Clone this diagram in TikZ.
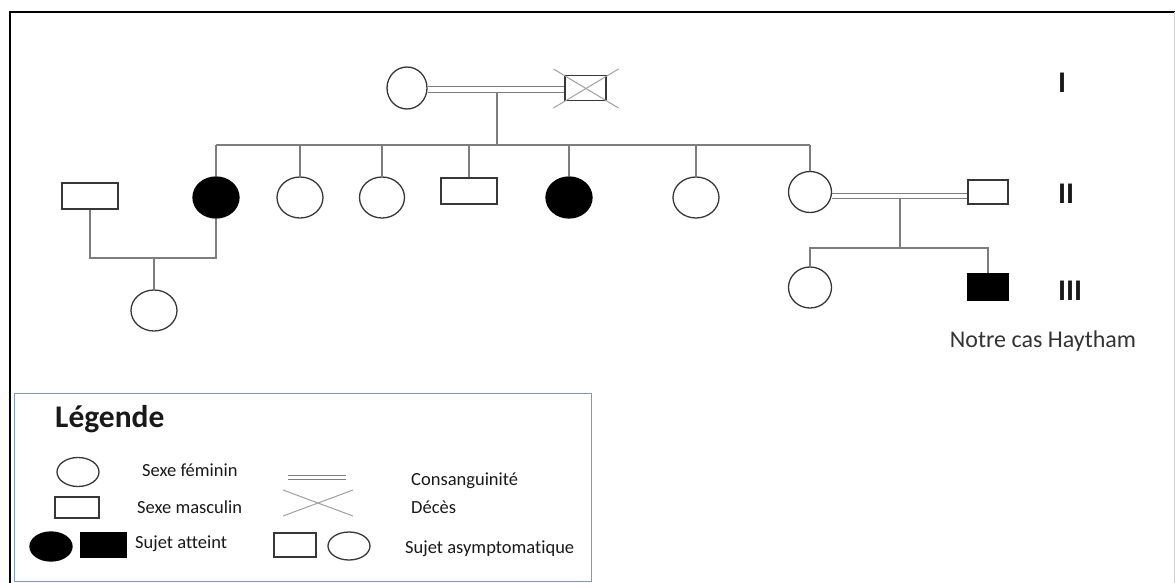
\documentclass[tikz,border=0pt]{standalone}
\usepackage{fontspec}
\setmainfont[Ligatures={CommonOff,ContextualOff}]{Carlito}
\usetikzlibrary{shapes.geometric}

\definecolor{linegray}{RGB}{125,125,125}
\definecolor{edgegray}{RGB}{55,55,55}
\definecolor{framegray}{RGB}{215,215,215}
\definecolor{legendblue}{RGB}{125,155,190}

\begin{document}
\begin{tikzpicture}[x=1pt, y=-1pt,
		female/.style={draw=edgegray, ellipse, line width=1.3pt, inner sep=0pt, minimum width=46pt, minimum height=41pt},
		male/.style={draw=edgegray, rectangle, line width=1.3pt, inner sep=0pt, minimum width=56pt, minimum height=26pt},
		affected/.style={fill=black, draw=black},
		link/.style={draw=linegray, line width=1.1pt},
		consang/.style={draw=linegray, line width=1pt, double, double distance=5pt},
		deceased/.style={draw=gray!75, line width=1pt},
		gen/.style={anchor=base west, inner sep=0pt, font=\fontsize{30}{30}\selectfont\bfseries, text=black!90},
		legtext/.style={anchor=base west, inner sep=0pt, font=\fontsize{18.5}{20}\selectfont, text=black!90}]
	\useasboundingbox (0,0) rectangle (1175,583);
	\draw[black, line width=2pt] (10,583) -- (10,12) -- (1175,12);
	\draw[framegray, line width=1pt] (1174,12) -- (1174,583);
	
	% generation I
	\node[female, minimum width=40pt, minimum height=42pt] (i1) at (407,88) {};
	\node[male, minimum width=41pt, minimum height=25pt] (i2) at (585.5,88) {};
	\draw[deceased] ([shift={(-32,-19)}]i2.center) -- ([shift={(33,20)}]i2.center);
	\draw[deceased] ([shift={(-32,20)}]i2.center) -- ([shift={(33,-19)}]i2.center);
	\draw[consang] ([yshift=-2pt]i1.east) to ([yshift=-2pt]i2.west);
	\coordinate (m1) at (497,93);
	\coordinate (s1) at (497,145);
	\draw[link] (m1) to (s1);
	
	% generation II
	\node[male] (ii0) at (90,196) {};
	\node[female, affected] (ii1) at (216,197.5) {};
	\node[female] (ii2) at (300,197.5) {};
	\node[female, minimum width=45pt] (ii3) at (382,197.5) {};
	\node[male] (ii4) at (469,191) {};
	\node[female, affected] (ii5) at (569,197.5) {};
	\node[female] (ii6) at (696,197.5) {};
	\node[female, minimum width=43pt] (ii7) at (810,192) {};
	\node[male, minimum width=40pt, minimum height=24pt] (ii8) at (988,192) {};
	
	\draw[link] (ii1.north |- s1) -- (ii7.north |- s1);
	\foreach \n in {ii1,ii2,ii3,ii4,ii5,ii6,ii7}
		\draw[link] (\n.north) -- (\n.north |- s1);
	
	\coordinate (u1) at (154,258);
	\draw[link] (ii0.south) |- (u1) -| (ii1.south);
	
	\draw[consang, double distance=4pt] ([yshift=-3.5pt]ii7.east) to ([yshift=-3.5pt]ii8.west);
	\coordinate (m2) at (900,198);
	\coordinate (s2) at (900,248);
	\draw[link] (m2) to (s2);
	
	% generation III
	\node[female] (iii1) at (154,310.5) {};
	\node[female, minimum width=43pt] (iii2) at (810,287.5) {};
	\node[male, affected, minimum width=40pt] (iii3) at (988,287) {};
	\draw[link] (u1) to (iii1.north);
	\draw[link] (iii2.north) |- (s2) -| (iii3.north);
	
	\node[anchor=base, inner sep=0pt, font=\fontsize{24}{24}\selectfont, text=black!80] (cas) at (1043,347) {Notre cas Haytham};
	
	\node[gen] (g1) at (1058,93) {I};
	\node[gen] (g2) at (1058,203) {II};
	\node[gen] (g3) at (1058,300) {III};
	
	% legend
	\node[draw=legendblue, line width=1.2pt, anchor=north west, minimum width=577pt, minimum height=188pt, inner sep=0pt] (legend) at (14,393) {};
	\node[anchor=base west, inner sep=0pt, font=\fontsize{31.5}{32}\selectfont\bfseries, text=black!90] (legtitle) at (55,427) {Légende};
	
	\node[female, minimum width=42pt, minimum height=29pt] (kf) at (78,472) {};
	\node[male, minimum width=44pt, minimum height=21pt] (km) at (77,507.5) {};
	\node[female, affected, minimum width=42pt, minimum height=29pt] (kfa) at (51,546.5) {};
	\node[male, affected, minimum width=45pt, minimum height=24pt] (kma) at (103.5,545) {};
	\node[legtext] (tf) at (142,476) {Sexe féminin};
	\node[legtext] (tm) at (137,513) {Sexe masculin};
	\node[legtext] (ta) at (135,548) {Sujet atteint};
	
	\coordinate (kc1) at (288,477);
	\coordinate (kc2) at (346,477);
	\draw[consang, double distance=3pt] (kc1) -- (kc2);
	\coordinate (kx) at (318,503);
	\draw[deceased] ([shift={(-35,-13)}]kx) -- ([shift={(35,13)}]kx);
	\draw[deceased] ([shift={(-35,13)}]kx) -- ([shift={(35,-13)}]kx);
	\node[male, minimum width=42pt, minimum height=24pt] (kms) at (295,545) {};
	\node[female, minimum width=42pt, minimum height=28pt] (kfs) at (349,546) {};
	\node[legtext] (tc) at (411,485) {Consanguinité};
	\node[legtext] (td) at (411,513) {Décès};
	\node[legtext] (ts) at (405,553) {Sujet asymptomatique};
\end{tikzpicture}
\end{document}
